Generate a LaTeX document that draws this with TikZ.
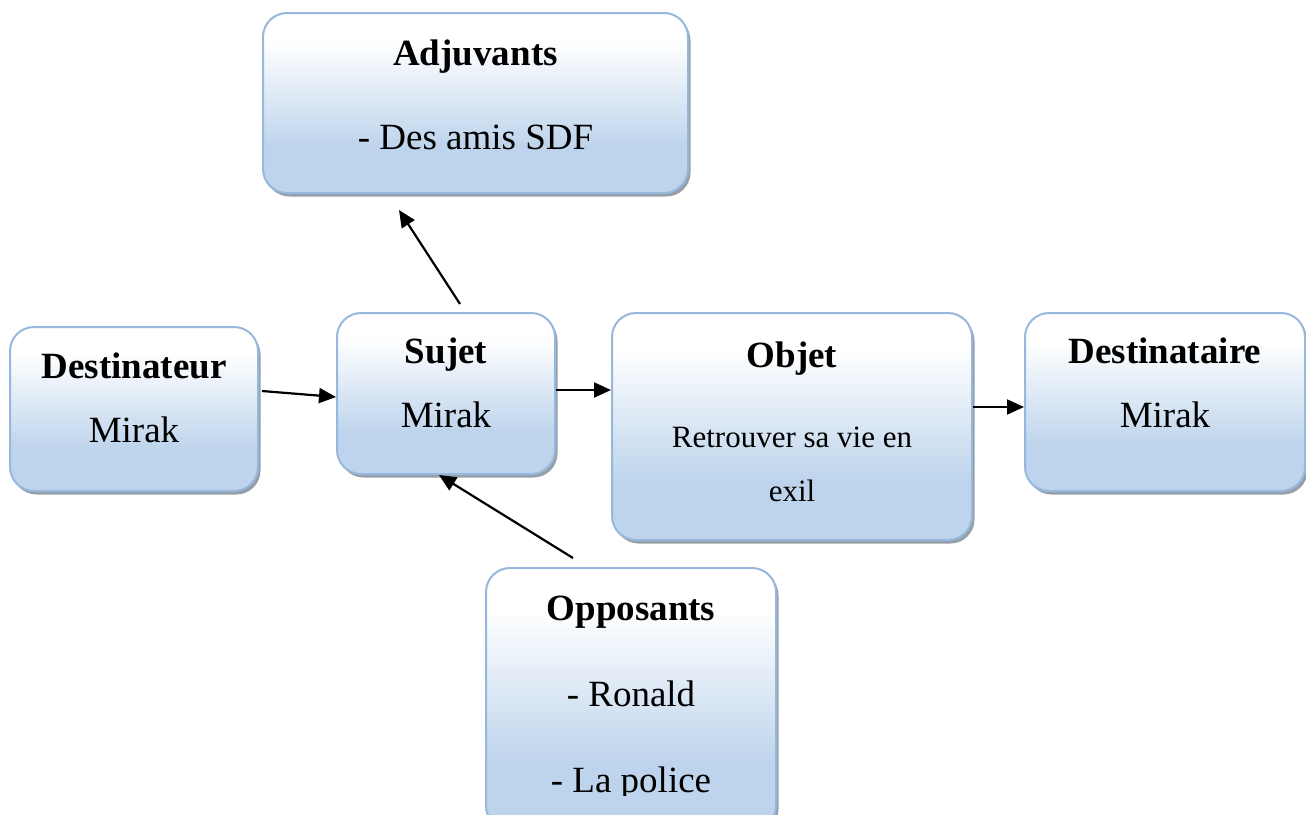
\documentclass[tikz,border=0pt]{standalone}
\usepackage{fontspec}
\setmainfont{Liberation Serif}
\usetikzlibrary{shadows,arrows.meta}
\definecolor{boxblue}{RGB}{190,212,236}
\definecolor{boxedge}{RGB}{149,184,220}
\definecolor{shadowgray}{RGB}{150,158,168}
\pgfdeclareverticalshading{boxshade}{100bp}{color(0bp)=(boxblue); color(38bp)=(boxblue); color(67bp)=(white); color(100bp)=(white)}
\tikzset{
  box/.style={rectangle, rounded corners=24pt, draw=boxedge, line width=2pt, shading=boxshade,
    drop shadow={shadow xshift=2.5pt, shadow yshift=-3.5pt, fill=shadowgray, opacity=1}},
  big/.style={font=\fontsize{37}{44}\selectfont, anchor=base, inner sep=0pt},
  bigb/.style={font=\fontsize{37}{44}\selectfont\bfseries, anchor=base, inner sep=0pt},
  small/.style={font=\fontsize{31}{37}\selectfont, anchor=base, inner sep=0pt},
  arr/.style={-{Triangle[length=17pt,width=15pt]}, line width=2.2pt, black}
}
\begin{document}
\begin{tikzpicture}[x=1pt,y=-1pt]
\useasboundingbox (0,0) rectangle (1306,814);
% boxes
\node[box, minimum width=425pt, minimum height=180pt] (adj) at (475.5,103) {};
\node[box, minimum width=248pt, minimum height=164pt] (dest) at (134,409) {};
\node[box, minimum width=218pt, minimum height=161pt] (suj) at (446,393.5) {};
\node[box, minimum width=360pt, minimum height=227pt] (obj) at (792,426.5) {};
\node[box, minimum width=280pt, minimum height=178pt] (dtr) at (1165,402) {};
\node[box, minimum width=290pt, minimum height=262pt] (opp) at (631,699) {};
% texts
\node[bigb] (adjT) at (475.5,65) {Adjuvants};
\node[big] (adjL) at (475.5,149) {- Des amis SDF};
\node[bigb] (destT) at (134,378) {Destinateur};
\node[big] (destL) at (134,442) {Mirak};
\node[bigb] (sujT) at (446,363) {Sujet};
\node[big] (sujL) at (446,427) {Mirak};
\node[bigb] (objT) at (792,367) {Objet};
\node[small] (objL1) at (792,447) {Retrouver sa vie en};
\node[small] (objL2) at (792,501) {exil};
\node[bigb] (dtrT) at (1165,363) {Destinataire};
\node[big] (dtrL) at (1165,427) {Mirak};
\node[bigb] (oppT) at (631,620) {Opposants};
\node[big] (oppL1) at (631,706) {- Ronald};
\begin{scope}
\clip (480,700) rectangle (790,795);
\node[big] (oppL2) at (631,792) {- La police};
\end{scope}
% connectors
\coordinate (a1s) at (460,304);
\coordinate (a1e) at (399,210);
\coordinate (a2s) at (262,391);
\coordinate (a5s) at (573,558);
\coordinate (a5e) at (439,475);
\draw[arr] (a1s) -- (a1e);
\draw[arr] (a2s) -- (suj.west |- 0,397);
\draw[arr] (suj.east |- 0,390) -- (obj.west |- 0,390);
\draw[arr] (obj.east |- 0,407) -- (dtr.west |- 0,407);
\draw[arr] (a5s) -- (a5e);
\end{tikzpicture}
\end{document}
